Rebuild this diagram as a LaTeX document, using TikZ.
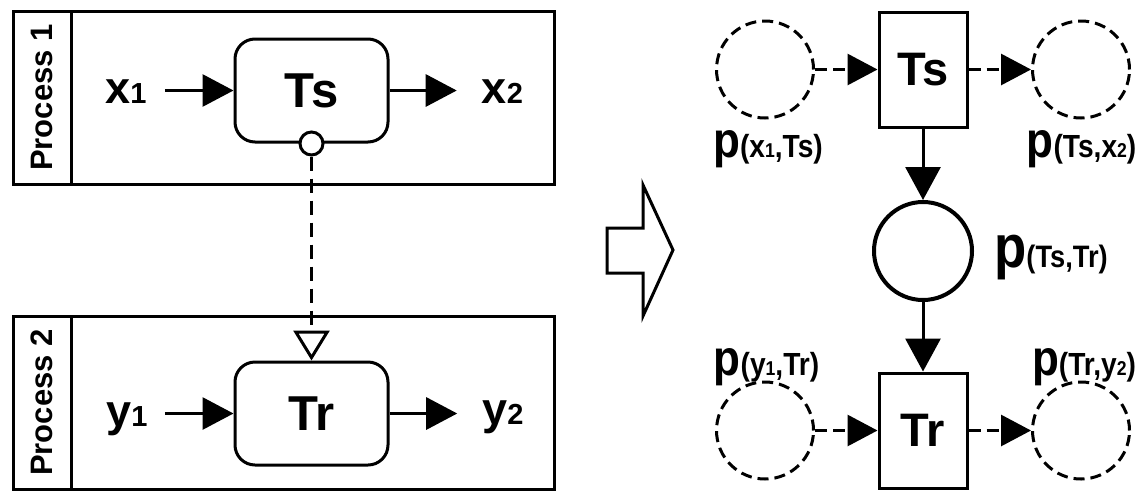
\documentclass[tikz,border=0pt]{standalone}
\usepackage{fontspec}
\setmainfont{Liberation Sans}
\usetikzlibrary{arrows.meta}
\newcommand\mylab[3]{{\fontsize{#1}{#1}\selectfont p}{\fontsize{#2}{#2}\selectfont(#3)}}
\newcommand\mysub[1]{{\fontsize{20}{20}\selectfont #1}}
\newcommand\myvsub[1]{{\fontsize{29}{29}\selectfont #1}}
\begin{document}
\begin{tikzpicture}[x=1pt,y=-1pt,
  lw/.style={line width=3pt},
  pbox/.style={draw, line width=3pt, inner sep=0pt, minimum width=541pt, minimum height=173pt},
  strip/.style={draw, line width=3pt, inner sep=0pt, minimum width=58pt, minimum height=173pt, anchor=north west},
  plabel/.style={rotate=90, inner sep=0pt, font=\fontsize{31}{31}\selectfont\bfseries},
  task/.style={draw, line width=3pt, rounded corners=20pt, inner sep=0pt, minimum width=153pt, minimum height=103pt, font=\fontsize{49}{49}\selectfont\bfseries},
  var/.style={inner sep=0pt, anchor=base, font=\fontsize{45}{45}\selectfont\bfseries},
  arr/.style={line width=3pt, -{Triangle[length=31pt,width=32pt]}},
  trans/.style={draw, line width=3pt, inner sep=0pt, minimum width=88pt, minimum height=115pt, font=\fontsize{47}{47}\selectfont\bfseries},
  place/.style={circle, draw, line width=3pt, dash pattern=on 11pt off 6pt, inner sep=0pt, minimum size=97pt},
  darr/.style={line width=3pt, dash pattern=on 12pt off 6pt, -{Triangle[length=30pt,width=31pt]}},
  varr/.style={line width=3pt, -{Triangle[length=33pt,width=35pt]}},
  lab/.style={inner sep=0pt, anchor=base, font=\bfseries, xscale=0.88},
]
\useasboundingbox (0,0) rectangle (1143,491);

% ---- Left: Process 1 ----
\node[pbox] (P1) at (283.5,97.5) {};
\node[strip] (S1) at (P1.north west) {};
\node[plabel] (PL1) at (S1.center) {Process 1};
\node[task] (Ts) at (311.5,90.5) {Ts};
\node[var] (x1) at (126,103) {x\myvsub{1}};
\node[var] (x2) at (502.5,103) {x\myvsub{2}};
\draw[arr, shorten <=18pt] (x1.east |- Ts.west) -- (Ts.west);
\draw[arr, shorten >=25pt] (Ts.east) -- (x2.west |- Ts.east);

% ---- Left: Process 2 ----
\node[pbox] (P2) at (283.5,402.5) {};
\node[strip] (S2) at (P2.north west) {};
\node[plabel] (PL2) at (S2.center) {Process 2};
\node[task] (Tr) at (311.5,413.5) {Tr};
\node[var] (y1) at (127,426) {y\myvsub{1}};
\node[var] (y2) at (503,424) {y\myvsub{2}};
\draw[arr, shorten <=17pt] (y1.east |- Tr.west) -- (Tr.west);
\draw[arr, shorten >=25pt] (Tr.east) -- (y2.west |- Tr.east);

% message flow
\node[circle, draw, line width=3pt, fill=white, inner sep=0pt, minimum size=23pt] (sc) at (Ts.south) {};
\draw[line width=3pt, dash pattern=on 14pt off 8pt, -{Triangle[open, length=30pt, width=36pt]}] (sc.south) -- (Tr.north);

% ---- Big hollow arrow ----
\draw[line width=3pt] (607,228) -- (643,228) -- (643,185) -- (673,250) -- (643,316) -- (643,273) -- (607,273) -- cycle;

% ---- Right: Petri net ----
\node[trans] (T1) at (923,69.5) {Ts};
\node[trans] (T2) at (923,430.5) {Tr};
\node[place] (c1) at (765,69.5) {};
\node[place] (c2) at (1081,69.5) {};
\node[place] (c3) at (765,430.5) {};
\node[place] (c4) at (1081,430.5) {};
\node[circle, draw, line width=4pt, inner sep=0pt, minimum size=98pt] (M) at (923,251) {};

\draw[darr] (c1) -- (T1);
\draw[darr] (T1) -- (c2);
\draw[darr] (c3) -- (T2);
\draw[darr] (T2) -- (c4);
\draw[varr] (T1) -- (M);
\draw[varr] (M) -- (T2);

\node[lab] (L1) at (768,157) {\mylab{50}{32}{x\mysub{1},Ts}};
\node[lab] (L2) at (1081.5,157) {\mylab{50}{32}{Ts,x\mysub{2}}};
\node[lab] (L3) at (1051,267) {\mylab{60}{31}{Ts,Tr}};
\node[lab] (L4) at (766.5,375) {\mylab{50}{32}{y\mysub{1},Tr}};
\node[lab] (L5) at (1084,375) {\mylab{50}{32}{Tr,y\mysub{2}}};
\end{tikzpicture}
\end{document}
